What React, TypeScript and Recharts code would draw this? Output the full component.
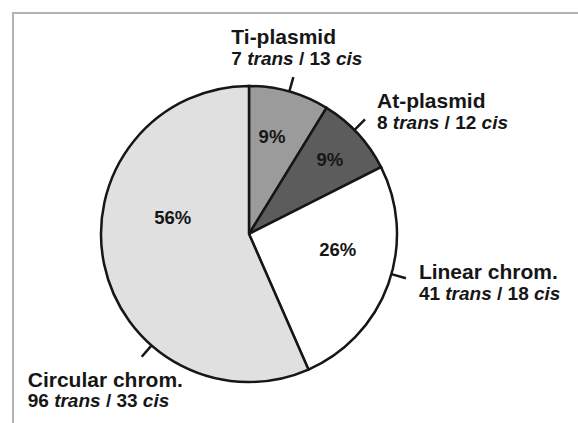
import { PieChart, Pie, Cell } from "recharts";

const names = ["Ti-plasmid", "At-plasmid", "Linear chrom.", "Circular chrom."];
const transCounts = [7, 8, 41, 96];
const cisCounts = [13, 12, 18, 33];
const percentLabels = ["9%", "9%", "26%", "56%"];
const fills = ["#9b9b9b", "#5c5c5c", "#ffffff", "#e0e0e0"];

// label layout: percent text (radius, angle shift), tick angle shift, caption offset from tick end
const pctLayout = [
  { r: 100, shift: -2.5 },
  { r: 110, shift: 0 },
  { r: 90, shift: -10 },
  { r: 78, shift: 24 },
];
const tickShift = [0, -2, -4, -37];
const captionOffset = [
  { dx: -62, dy: -33 },
  { dx: 12, dy: -11 },
  { dx: 13, dy: 1 },
  { dx: -114, dy: 30 },
];

const data = names.map((name, i) => ({
  name,
  trans: transCounts[i],
  cis: cisCounts[i],
  value: transCounts[i] + cisCounts[i],
}));

const FONT = "'Liberation Sans', Arial, sans-serif";
const INK = "#161616";

function polar(cx: number, cy: number, r: number, cw: number) {
  const a = (cw * Math.PI) / 180;
  return { x: cx + r * Math.sin(a), y: cy - r * Math.cos(a) };
}

function renderLabel(props: any) {
  const { cx, cy, midAngle, outerRadius, index } = props;
  const cw = 90 - midAngle;
  const d = data[index];
  const p = polar(cx, cy, pctLayout[index].r, cw + pctLayout[index].shift);
  const t0 = polar(cx, cy, outerRadius, cw + tickShift[index]);
  const t1 = polar(cx, cy, outerRadius + 15, cw + tickShift[index]);
  const tx = t1.x + captionOffset[index].dx;
  const ty = t1.y + captionOffset[index].dy;
  return (
    <g key={`lbl-${index}`}>
      <text
        x={p.x}
        y={p.y}
        textAnchor="middle"
        dominantBaseline="central"
        fontFamily={FONT}
        fontWeight="bold"
        fontSize={18.5}
        fill={INK}
      >
        {percentLabels[index]}
      </text>
      <line x1={t0.x} y1={t0.y} x2={t1.x} y2={t1.y} stroke={INK} strokeWidth={2.5} />
      <text x={tx} y={ty} fontFamily={FONT} fontWeight="bold" fontSize={21} fill={INK}>
        {d.name}
      </text>
      <text x={tx} y={ty + 20.5} fontFamily={FONT} fontWeight="bold" fontSize={19} fill={INK}>
        <tspan>{`${d.trans} `}</tspan>
        <tspan fontStyle="italic">trans</tspan>
        <tspan>{` / ${d.cis} `}</tspan>
        <tspan fontStyle="italic">cis</tspan>
      </text>
    </g>
  );
}

export default function App() {
  return (
    <div
      style={{
        position: "absolute",
        left: 0,
        top: 0,
        width: 578,
        height: 423,
        background: "#ffffff",
        overflow: "hidden",
      }}
    >
      <div
        style={{
          position: "absolute",
          left: 12,
          top: 12,
          width: 600,
          height: 450,
          borderLeft: "2px solid #b3b3b3",
          borderTop: "2px solid #b3b3b3",
        }}
      />
      <div style={{ position: "absolute", left: 0, top: 0 }}>
        <PieChart width={578} height={423} margin={{ top: 0, right: 0, bottom: 0, left: 0 }}>
          <Pie
            data={data}
            dataKey="value"
            nameKey="name"
            cx={249}
            cy={234}
            outerRadius={148}
            startAngle={90}
            endAngle={-270}
            stroke={INK}
            strokeWidth={2.5}
            label={renderLabel}
            labelLine={false}
            isAnimationActive={false}
          >
            {data.map((d, i) => (
              <Cell key={d.name} fill={fills[i]} />
            ))}
          </Pie>
        </PieChart>
      </div>
    </div>
  );
}
